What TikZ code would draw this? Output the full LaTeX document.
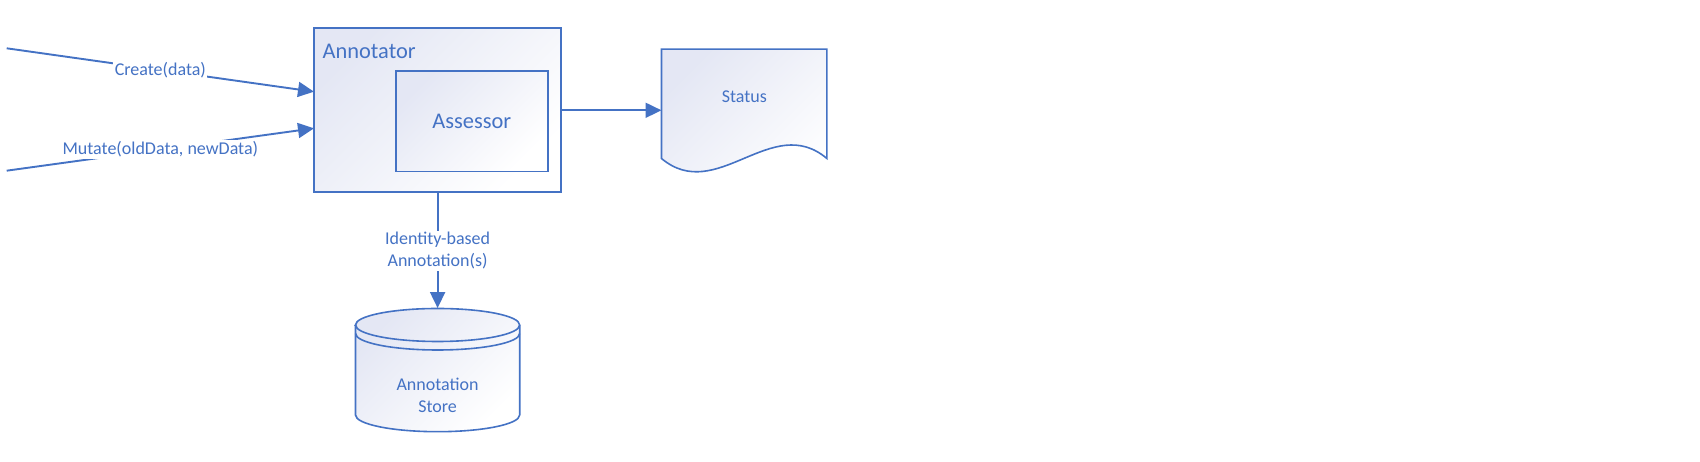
\documentclass[tikz,border=0pt]{standalone}
\usepackage{fontspec}
\setmainfont{Carlito}
\usetikzlibrary{arrows.meta}
\definecolor{vblue}{HTML}{4472C4}
\definecolor{lav}{RGB}{228,231,244}
\begin{document}
\begin{tikzpicture}[x=1pt,y=1pt,
  shadebox/.style={draw=vblue, line width=1.6pt, top color=lav, bottom color=white, shading angle=45},
  outline/.style={draw=vblue, line width=1.6pt},
  conn/.style={draw=vblue, line width=1.9pt, -{Triangle[length=16pt,width=15pt]}},
  lbl/.style={text=vblue, font=\fontsize{18}{22}\selectfont, fill=white, inner sep=1.5pt, align=center},
  big/.style={text=vblue, font=\fontsize{22.4}{26}\selectfont},
  ghost/.style={draw=none, fill=none, inner sep=0pt},
]
\useasboundingbox (0,0) rectangle (1700,462);

% Annotator container
\node[shadebox, minimum width=246.7pt, minimum height=164pt, inner sep=0pt] (annot) at (437.35,351.7) {};
\node[big, anchor=west, inner sep=0pt] (annotlbl) at (322.5,411) {Annotator};
\node[shadebox, big, minimum width=151.7pt, minimum height=100.7pt, inner sep=0pt] (assess) at (471.85,340.65) {Assessor};

% Status document
\node[ghost, minimum width=165pt, minimum height=109pt] (statusbox) at (744.2,358.2) {};
\path[shadebox] (statusbox.north west) -- (statusbox.north east) -- (statusbox.south east)
  .. controls (771.7,350.1) and (716.7,257.3) .. (statusbox.south west) -- cycle;
\node[lbl, fill=none] (status) at (744.3,365.3) {Status};

% Annotation store (cylinder)
\node[ghost, minimum width=164.2pt, minimum height=123.4pt] (store) at (437.6,92) {};
\path[shadebox] (355.5,137) -- (355.5,47)
  arc[start angle=180, end angle=360, x radius=82.1, y radius=16.7]
  -- (519.7,137)
  arc[start angle=0, end angle=180, x radius=82.1, y radius=16.5] -- cycle;
\draw[outline] (355.5,137) arc[start angle=180, end angle=360, x radius=82.1, y radius=16.5];
\draw[outline] (355.5,128.5) arc[start angle=180, end angle=360, x radius=82.1, y radius=16.5];
\node[lbl, fill=none] (storelbl) at (437.6,66.7) {Annotation\\Store};

% Incoming calls
\coordinate (cstart) at (6.7,413.7);
\coordinate (ctip) at (314,370.3);
\coordinate (mstart) at (6.7,291.3);
\coordinate (mtip) at (314,333.7);
\draw[conn] (cstart) -- node[lbl, pos=0.5] {Create(data)} (ctip);
\draw[conn] (mstart) -- node[lbl, pos=0.5] {Mutate(oldData, newData)} (mtip);

% Outgoing
\draw[conn] (annot.east) -- (annot.east -| statusbox.west);
\draw[conn] (annot.south -| store.north) -- node[lbl, midway] {Identity-based\\Annotation(s)} (store.north);
\end{tikzpicture}
\end{document}
